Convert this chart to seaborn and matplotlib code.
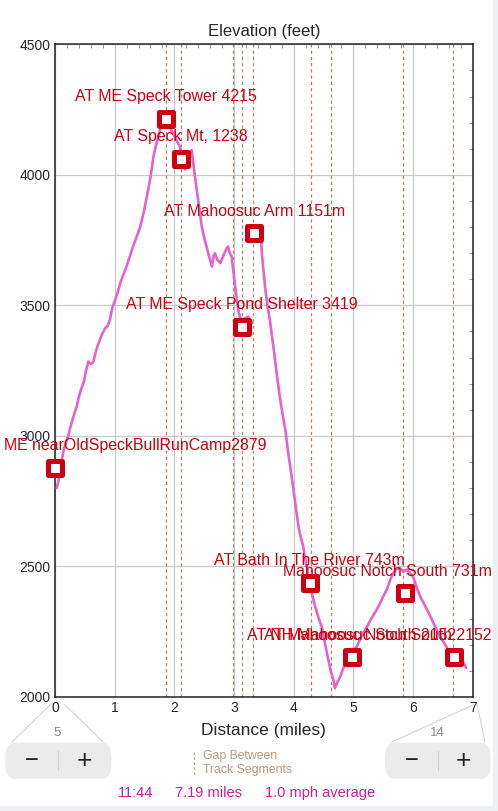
import pandas as pd
import seaborn as sns
import matplotlib.pyplot as plt
from matplotlib.patches import FancyBboxPatch, Rectangle
from matplotlib.lines import Line2D

# Perfil de elevación (dos segmentos de track)
seg1_dist = [0.03, 0.06, 0.09, 0.12, 0.15, 0.2, 0.223, 0.26, 0.31, 0.36, 0.4, 0.44, 0.48, 0.52,
             0.56, 0.6, 0.64, 0.68, 0.73, 0.78, 0.84, 0.88, 0.92, 0.96, 1.0, 1.05, 1.1, 1.2, 1.3,
             1.38, 1.43, 1.49, 1.54, 1.6, 1.65, 1.7, 1.73, 1.79, 1.83, 1.855, 1.9, 1.95, 1.98,
             2.04, 2.095, 2.14, 2.18, 2.22, 2.26, 2.29, 2.32, 2.375, 2.42, 2.46, 2.5, 2.54, 2.58,
             2.63, 2.66, 2.68, 2.72, 2.77, 2.82, 2.87, 2.9, 2.93, 2.96, 2.99, 3.02, 3.07, 3.1,
             3.13, 3.18, 3.24, 3.28, 3.31]
seg1_elev = [2800, 2830, 2880, 2915, 2950, 2985, 3000, 3035, 3075, 3110, 3150, 3180, 3205, 3250,
             3285, 3275, 3282, 3320, 3355, 3385, 3413, 3420, 3445, 3490, 3515, 3550, 3590, 3650, 3720,
             3770, 3802, 3860, 3917, 3990, 4070, 4120, 4146, 4198, 4215, 4229, 4205, 4170, 4159,
             4130, 4108, 4060, 4020, 4040, 4080, 4095, 4040, 3942, 3870, 3802, 3760, 3725, 3690,
             3649, 3690, 3700, 3675, 3662, 3690, 3715, 3725, 3700, 3687, 3630, 3572, 3483, 3455,
             3445, 3450, 3457, 3440, 3432]
seg2_dist = [3.37, 3.42, 3.45, 3.47, 3.52, 3.56, 3.6, 3.66, 3.72, 3.78, 3.83, 3.86, 3.9, 3.95, 3.99,
             4.04, 4.08, 4.12, 4.16, 4.2, 4.25, 4.3, 4.36, 4.42, 4.47, 4.52, 4.58, 4.62, 4.665,
             4.69, 4.72, 4.78, 4.83, 4.89, 4.95, 5.0, 5.06, 5.12, 5.18, 5.23, 5.3, 5.39, 5.45,
             5.5, 5.56, 5.62, 5.67, 5.72, 5.78, 5.84, 5.89, 5.95, 6.0, 6.06, 6.12, 6.2, 6.29,
             6.37, 6.45, 6.54, 6.62, 6.68, 6.73, 6.78, 6.82, 6.86, 6.89]
seg2_elev = [3790, 3775, 3770, 3690, 3572, 3500, 3445, 3342, 3230, 3130, 3062, 3023, 2950, 2870, 2806,
             2720, 2653, 2610, 2577, 2520, 2462, 2400, 2347, 2300, 2270, 2210, 2143, 2100, 2066,
             2034, 2050, 2078, 2110, 2143, 2165, 2180, 2194, 2225, 2250, 2270, 2300, 2334, 2360,
             2385, 2411, 2450, 2475, 2490, 2494, 2480, 2488, 2475, 2462, 2420, 2385, 2350, 2309,
             2270, 2232, 2200, 2168, 2160, 2162, 2150, 2143, 2125, 2111]

# Waypoints
wp_nombres = ["AT ME Speck Tower 4215", "AT Speck Mt, 1238", "AT Mahoosuc Arm 1151m",
              "AT ME Speck Pond Shelter 3419", "ME nearOldSpeckBullRunCamp2879",
              "AT Bath In The River 743m", "Mahoosuc Notch South 731m",
              "AT NH Mahoosuc South 2152", "AT Mahoosuc Notch South 2152"]
wp_dist = [1.855, 2.107, 3.336, 3.13, 0.0, 4.27, 5.86, 4.97, 6.68]
wp_elev = [4215, 4062, 3776, 3419, 2879, 2438, 2398, 2152, 2152]

# Cortes entre segmentos
gaps = [1.855, 2.107, 2.989, 3.129, 3.314, 4.296, 4.631, 5.838, 6.676]

df = pd.DataFrame({
    "dist": seg1_dist + seg2_dist,
    "elev": seg1_elev + seg2_elev,
    "seg": [1] * len(seg1_dist) + [2] * len(seg2_dist),
})

rojo = "#cc0010"
rosa = "#e463cc"
marron = "#a8845c"

sns.set_style("white")
plt.rcParams['font.family'] = ['Liberation Sans', 'DejaVu Sans']

dpi = 100
fig = plt.figure(figsize=(4.98, 8.11), dpi=dpi)
ax = fig.add_axes([55 / 498, 1 - 697 / 811, (472.7 - 55) / 498, (697 - 44.3) / 811])

for g in gaps:
    ax.axvline(g, color=marron, lw=0.9, ls=(0, (2.5, 2.5)), zorder=1)

sns.lineplot(data=df, x="dist", y="elev", units="seg", estimator=None,
             color=rosa, lw=1.9, ax=ax, zorder=3)
sns.scatterplot(x=wp_dist, y=wp_elev, marker="s", s=9.5 ** 2, color="white",
                edgecolor=rojo, linewidth=3.6, ax=ax, zorder=4, clip_on=False)

ax.set_xlim(0, 7)
ax.set_ylim(2000, 4500)
ax.set_xticks(range(0, 8))
ax.set_yticks([2000, 2500, 3000, 3500, 4000, 4500])
ax.set_xticks([i * 0.2 for i in range(36)], minor=True)
ax.set_yticks(list(range(2000, 4501, 100)), minor=True)
ax.grid(True, which="major", color="#c8c8c8", lw=0.9)
ax.tick_params(which="both", direction="in", top=True, right=True, color="#999999",
               labelsize=10, pad=3)
ax.tick_params(which="major", length=0)
ax.tick_params(which="minor", length=3, width=0.7)
for s in ax.spines.values():
    s.set_color("#222222")
    s.set_linewidth(1.1)
ax.set_title("Elevation (feet)", fontsize=12, pad=6)
ax.set_xlabel("Distance (miles)", fontsize=12.5, labelpad=6)
ax.set_ylabel("")

# Etiquetas de waypoints, limitadas al ancho de la figura
anns = []
for nom, x, y in zip(wp_nombres, wp_dist, wp_elev):
    a = ax.annotate(nom, (x, y), xytext=(0, 15.8), textcoords="offset points",
                    ha="center", va="center", color=rojo, fontsize=11.4,
                    annotation_clip=False, zorder=5)
    anns.append(a)
fig.canvas.draw()
r = fig.canvas.get_renderer()
for a in anns:
    bb = a.get_window_extent(r)
    dx = 0
    if bb.x0 < 4:
        dx = 4 - bb.x0
    elif bb.x1 > 492:
        dx = 492 - bb.x1
    if dx:
        a.xyann = (dx * 72 / dpi, 15.8)


def fx(px):
    return px / 498


def fy(py):
    return 1 - py / 811


# Marco gris de la pantalla
fig.patches.append(Rectangle((fx(493), 0), fx(5), 1, transform=fig.transFigure,
                             color="#eef0f3", zorder=0))
fig.patches.append(Rectangle((0, 0), 1, fy(806), transform=fig.transFigure,
                             color="#eef0f3", zorder=0))

# Controles de zoom
gris = "#d4d4d4"
for (x0, y0, x1, y1) in [(53, 702, 12, 742), (64, 704, 103, 742),
                         (475, 704, 392, 742), (477, 704, 485, 742)]:
    fig.lines.append(Line2D([fx(x0), fx(x1)], [fy(y0), fy(y1)], transform=fig.transFigure,
                            color=gris, lw=0.8))
for (x0, x1, num, cnum) in [(6, 110.7, "5", 57.3), (385.7, 490, "14", 437.3)]:
    fig.patches.append(FancyBboxPatch((fx(x0), fy(778.3)), fx(x1 - x0), (778.3 - 743.3) / 811,
                                      boxstyle="round,pad=0,rounding_size=0.018",
                                      transform=fig.transFigure, color="#ebebeb", zorder=1))
    mid = (x0 + x1) / 2
    fig.lines.append(Line2D([fx(mid), fx(mid)], [fy(751), fy(770)], transform=fig.transFigure,
                            color="#cfcfcf", lw=0.8))
    fig.text(fx(x0 + (x1 - x0) * 0.25), fy(760.5), "\u2212", ha="center", va="center",
             fontsize=17, color="#222222")
    fig.text(fx(x0 + (x1 - x0) * 0.75), fy(760.5), "+", ha="center", va="center",
             fontsize=19, color="#222222")
    fig.text(fx(cnum), fy(733.3), num, ha="center", va="center", fontsize=9.5,
             color="#8a8a8a")

# Leyenda de cortes
fig.lines.append(Line2D([fx(194.3), fx(194.3)], [fy(751.7), fy(775)], transform=fig.transFigure,
                        color="#c0a47e", lw=0.9, ls=(0, (2, 2))))
fig.text(fx(203.3), fy(756), "Gap Between", ha="left", va="center", fontsize=8.8,
         color="#b89c78")
fig.text(fx(203.3), fy(769.5), "Track Segments", ha="left", va="center", fontsize=8.8,
         color="#b89c78")

# Resumen del recorrido
morado = "#c8209e"
for txt, cx in [("11:44", 135.5), ("7.19 miles", 208.5), ("1.0 mph average", 320.5)]:
    fig.text(fx(cx), fy(793.3), txt, ha="center", va="center", fontsize=10.5, color=morado)

fig.savefig("out.png", dpi=dpi)
